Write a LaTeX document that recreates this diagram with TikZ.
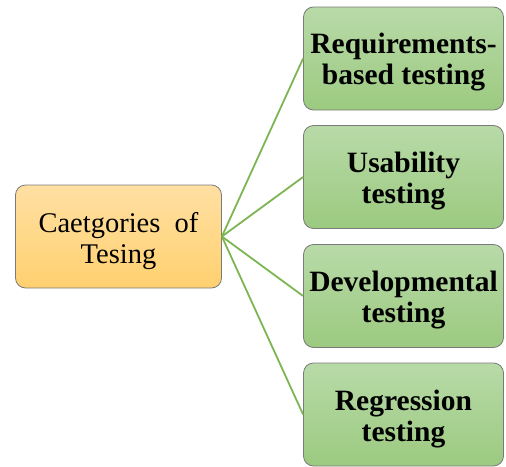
\documentclass[tikz,border=0pt]{standalone}
\usepackage{fontspec}
\setmainfont{Liberation Serif}
\usetikzlibrary{shapes.misc}
\definecolor{orTop}{HTML}{FFE0A3}
\definecolor{orBot}{HTML}{FFD06F}
\definecolor{grTop}{HTML}{B8DAA8}
\definecolor{grBot}{HTML}{9CCA80}
\definecolor{edgeGrey}{HTML}{7A7A7A}
\definecolor{linkGreen}{HTML}{7CB552}
\newcommand{\dropstrut}{\rule{0pt}{28.5pt}}
\tikzset{
  rootbox/.style={draw=edgeGrey, line width=0.8pt, rounded corners=10pt,
    top color=orTop, bottom color=orBot, minimum width=206pt, minimum height=103pt,
    align=center, inner sep=0pt, font=\fontsize{28.5}{31}\selectfont},
  leafbox/.style={draw=edgeGrey, line width=0.8pt, rounded corners=10pt,
    top color=grTop, bottom color=grBot, minimum width=200pt, minimum height=103pt,
    align=center, inner sep=0pt, font=\fontsize{29.5}{31}\selectfont\bfseries},
  link/.style={draw=linkGreen, line width=1.8pt}
}
\begin{document}
\begin{tikzpicture}[x=1pt,y=-1pt]
\useasboundingbox (0,0) rectangle (506,466);
\node[rootbox] (root) at (118.5,236.5) {\dropstrut Caetgories\ \ of\\Tesing};
\node[leafbox] (l1) at (403.5,58.5) {\dropstrut Requirements-\\based\ testing};
\node[leafbox] (l2) at (403.5,177) {\dropstrut Usability\\testing};
\node[leafbox] (l3) at (403.5,296) {\dropstrut Developmental\\testing};
\node[leafbox] (l4) at (403.5,414.5) {\dropstrut Regression\\testing};
\draw[link] (root.east) -- (l1.west);
\draw[link] (root.east) -- (l2.west);
\draw[link] (root.east) -- (l3.west);
\draw[link] (root.east) -- (l4.west);
\end{tikzpicture}
\end{document}
